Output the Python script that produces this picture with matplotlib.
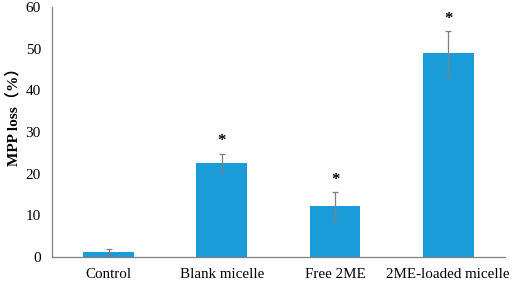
import numpy as np
import matplotlib
matplotlib.use("Agg")
import matplotlib.pyplot as plt

plt.rcParams['font.family'] = ['Liberation Serif', 'Noto Sans CJK SC']

# data
groups = ['Control', 'Blank micelle', 'Free 2ME', '2ME-loaded micelle']
mpp_loss = [1.2, 22.6, 12.2, 48.9]
mpp_err = [0.8, 2.2, 3.4, 5.4]
signif = ['', '*', '*', '*']

fig = plt.figure(figsize=(5.12, 2.82), dpi=100)
ax = fig.add_axes([0.1016, 0.0887, 0.8844, 0.8865])

x = np.arange(len(groups))
ax.bar(x, mpp_loss, width=0.45, color='#1a9cd9', zorder=2)
ax.errorbar(x, mpp_loss, yerr=mpp_err, fmt='none', ecolor='#7f7f7f',
            elinewidth=0.9, capsize=2.5, capthick=0.9, zorder=3)

# significance stars above the error bars
for xi, v, e, s in zip(x, mpp_loss, mpp_err, signif):
    if s:
        ax.text(xi, v + e + 1.0, s, ha='center', va='bottom',
                fontsize=12, fontweight='bold', color='black')

ax.set_xlim(-0.5, 3.5)
ax.set_ylim(0, 60)
ax.set_yticks(np.arange(0, 61, 10))
ax.set_xticks(x)
ax.set_xticklabels(groups, fontsize=10.8)
ax.tick_params(axis='y', labelsize=11, length=0, pad=8)
ax.tick_params(axis='x', length=0, pad=8)
ax.set_ylabel('MPP loss（%）', fontsize=11, fontweight='bold')
ax.yaxis.set_label_coords(-0.07, 0.575)

for side in ['top', 'right']:
    ax.spines[side].set_visible(False)
for side in ['left', 'bottom']:
    ax.spines[side].set_color('#808080')
    ax.spines[side].set_linewidth(0.9)

fig.savefig('out.png', dpi=100)
